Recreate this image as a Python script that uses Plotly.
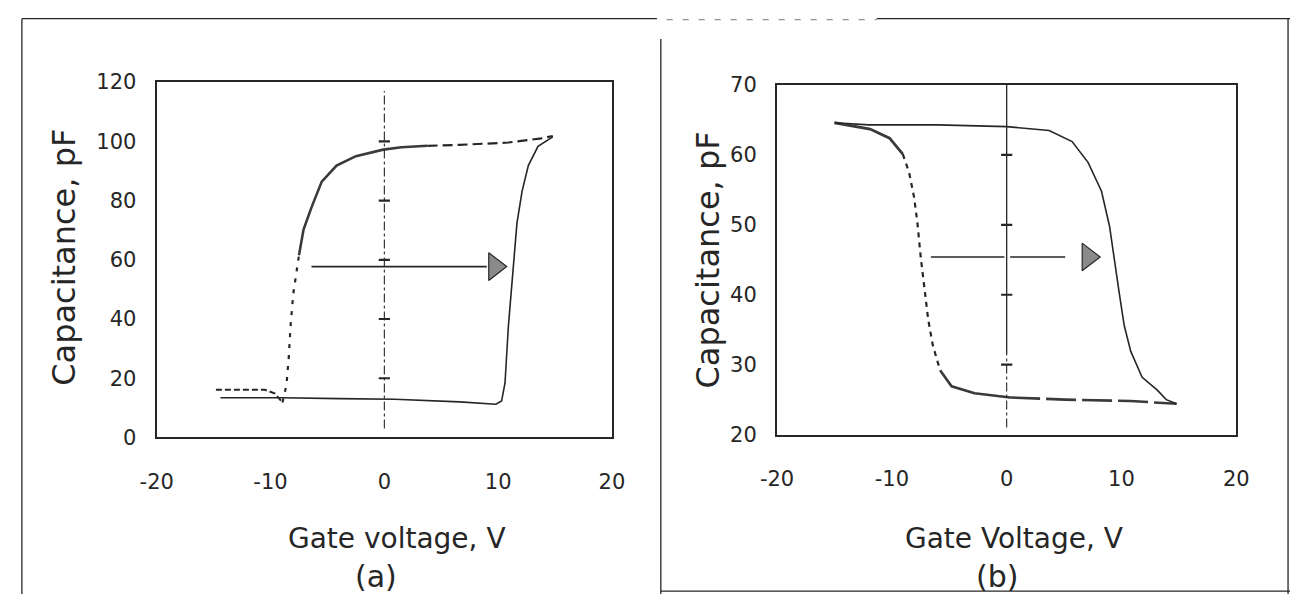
import plotly.graph_objects as go

# ---------------- data ----------------
# panel (a): forward sweep (dashed) and reverse sweep (solid)
fwd_a_x = [-14.8, -12.5, -10.5, -9.6, -8.95, -8.6, -8.4, -8.24, -8.0, -7.75, -7.5,
           -7.1, -6.4, -5.5, -4.2, -2.5, -0.1, 1.5, 3.8, 6.6, 10.9, 13.8, 14.8]
fwd_a_y = [16.1, 16.1, 16.1, 14.8, 11.8, 17.7, 26.9, 37.7, 48.5, 55.0, 61.5,
           70.2, 77.7, 86.4, 91.8, 95.0, 97.2, 98.0, 98.5, 98.8, 99.6, 101.0, 101.8]
rev_a_x = [-14.4, -10.5, -8.95, -4.0, 0.9, 6.6, 9.4, 9.8, 10.3, 10.6, 10.9,
           11.35, 11.65, 12.1, 12.65, 13.5, 14.8]
rev_a_y = [13.4, 13.4, 13.4, 13.1, 12.9, 12.0, 11.4, 11.2, 12.3, 18.3, 37.7,
           59.4, 72.3, 83.1, 91.8, 98.3, 101.5]

# panel (b)
fwd_b_x = [-15.0, -13.5, -11.9, -10.2, -9.05, -8.5, -8.06, -7.77, -7.49, -7.2,
           -6.84, -6.44, -5.8, -4.8, -2.8, 0.3, 5.1, 10.8, 14.8]
fwd_b_y = [64.6, 64.2, 63.7, 62.4, 60.1, 57.5, 53.9, 50.2, 45.4, 41.1,
           36.5, 32.8, 29.2, 26.9, 25.9, 25.3, 25.0, 24.8, 24.4]
rev_b_x = [-15.0, -12.0, -6.0, 0.0, 3.7, 5.7, 7.1, 8.26, 8.96, 9.39, 9.81,
           10.24, 10.81, 11.8, 13.1, 13.9, 14.8]
rev_b_y = [64.6, 64.3, 64.3, 64.05, 63.5, 61.9, 58.9, 54.8, 49.8, 44.7, 40.2,
           35.6, 31.9, 28.2, 26.4, 25.0, 24.4]

# markers on the x = 0 guide line
guide_a_ticks = [20, 40, 60, 80, 100]
guide_b_ticks = [30, 40, 50, 60]

# tick labels
x_tickvals = [-20, -10, 0, 10, 20]
x_ticktext = ["-20", "-10", "0", "10", "20"]
ya_tickvals = [0, 20, 40, 60, 80, 100, 120]
yb_tickvals = [20, 30, 40, 50, 60, 70]

# arrows (direction of sweep)
arrow_a_x = [-6.4, 9.0]
arrow_a_y = 57.7
arrow_a_head = 9.7
arrow_b_x1 = [-6.6, -0.2]
arrow_b_x2 = [0.3, 5.1]
arrow_b_y = 45.4
arrow_b_head = 7.1

# ---------------- layout helpers ----------------
W, H = 1303, 606
def px(x):
    return x / W
def py(y):
    return 1 - y / H

INK = "#262626"
FONT = "DejaVu Sans"

fig = go.Figure()

def line(xs, ys, xa, ya, dash="solid", width=1.6, color=INK):
    fig.add_trace(go.Scatter(x=xs, y=ys, xaxis=xa, yaxis=ya, mode="lines",
                             line=dict(color=color, width=width, dash=dash),
                             hoverinfo="skip", showlegend=False))

def ticks_on_guide(vals, xa, ya):
    fig.add_trace(go.Scatter(x=[0] * len(vals), y=vals, xaxis=xa, yaxis=ya, mode="markers",
                             marker=dict(symbol="line-ew-open", size=8, color=INK,
                                         line=dict(color=INK, width=2.2)),
                             hoverinfo="skip", showlegend=False))

def head(x, y, xa, ya):
    fig.add_trace(go.Scatter(x=[x], y=[y], xaxis=xa, yaxis=ya, mode="markers",
                             marker=dict(symbol="triangle-right", size=24, color="#8a8a8a",
                                         line=dict(color=INK, width=1.2)),
                             hoverinfo="skip", showlegend=False))

# ---- panel (a) ----
line(fwd_a_x[:5], fwd_a_y[:5], "x", "y", dash="6px,3px", width=2)
line(fwd_a_x[4:11], fwd_a_y[4:11], "x", "y", dash="4px,7px", width=2.2)
line(fwd_a_x[10:19], fwd_a_y[10:19], "x", "y", dash="solid", width=2.6, color="#3a3a3a")
line(fwd_a_x[18:], fwd_a_y[18:], "x", "y", dash="10px,5px", width=2.2)
line(rev_a_x, rev_a_y, "x", "y", dash="solid", width=1.6)
line([0, 0], [3, 117], "x", "y", dash="dashdot", width=1.1)
ticks_on_guide(guide_a_ticks, "x", "y")
line(arrow_a_x, [arrow_a_y, arrow_a_y], "x", "y", width=1.8)
head(arrow_a_head, arrow_a_y, "x", "y")

# ---- panel (b) ----
line(fwd_b_x[:5], fwd_b_y[:5], "x2", "y2", dash="solid", width=2.8, color="#3a3a3a")
line(fwd_b_x[4:13], fwd_b_y[4:13], "x2", "y2", dash="5px,5px", width=2.2)
line(fwd_b_x[12:16], fwd_b_y[12:16], "x2", "y2", dash="solid", width=2.6, color="#3a3a3a")
line(fwd_b_x[15:], fwd_b_y[15:], "x2", "y2", dash="30px,6px", width=2.6, color="#3a3a3a")
line(rev_b_x, rev_b_y, "x2", "y2", dash="solid", width=1.6)
line([0, 0], [31.5, 70], "x2", "y2", dash="solid", width=1.3)
line([0, 0], [21, 31.5], "x2", "y2", dash="dashdot", width=1.1)
ticks_on_guide(guide_b_ticks, "x2", "y2")
line(arrow_b_x1, [arrow_b_y, arrow_b_y], "x2", "y2", width=1.4)
line(arrow_b_x2, [arrow_b_y, arrow_b_y], "x2", "y2", width=1.4)
head(arrow_b_head, arrow_b_y, "x2", "y2")

axis_common = dict(showline=True, mirror=True, linewidth=2.2, linecolor=INK,
                   showgrid=False, zeroline=False, ticks="",
                   tickfont=dict(family=FONT, size=21, color=INK), fixedrange=True)

fig.update_layout(
    width=W, height=H, margin=dict(l=0, r=0, t=0, b=0),
    paper_bgcolor="white", plot_bgcolor="white", showlegend=False,
    xaxis=dict(domain=[px(143), px(609)], anchor="y", range=[-20, 20],
               tickvals=x_tickvals, ticktext=x_ticktext, ticklabelstandoff=24, **axis_common),
    yaxis=dict(domain=[py(443), py(73)], anchor="x", range=[0, 120],
               tickvals=ya_tickvals, ticklabelstandoff=14, **axis_common),
    xaxis2=dict(domain=[px(778), px(1248)], anchor="y2", range=[-20, 20],
                tickvals=x_tickvals, ticktext=x_ticktext, ticklabelstandoff=24, **axis_common),
    yaxis2=dict(domain=[py(440), py(76)], anchor="x2", range=[20, 70],
                tickvals=yb_tickvals, ticklabelstandoff=14, **axis_common),
)

def label(text, x, y, size, angle=0):
    fig.add_annotation(text=text, x=px(x), y=py(y), xref="paper", yref="paper",
                       showarrow=False, textangle=angle, xanchor="center", yanchor="middle",
                       font=dict(family=FONT, size=size, color=INK))

label("Capacitance, pF", 48, 255, 32, -90)
label("Gate voltage, V", 389, 548, 28)
label("(a)", 367, 588, 30)
label("Capacitance, pF", 707, 258, 32, -90)
label("Gate Voltage, V", 1020, 548, 28)
label("(b)", 1003, 588, 30)

# panel frames
frame = dict(type="line", xref="paper", yref="paper", line=dict(color=INK, width=1.3))
fig.add_shape(x0=px(5), x1=px(5), y0=py(7), y1=py(606), **frame)
fig.add_shape(x0=px(5), x1=px(655), y0=py(7), y1=py(7), **frame)
fig.add_shape(x0=px(659), x1=px(659), y0=py(28), y1=py(606), **frame)
fig.add_shape(x0=px(880), x1=px(1303), y0=py(7), y1=py(7), **frame)
fig.add_shape(x0=px(1301), x1=px(1301), y0=py(7), y1=py(606), **frame)
fig.add_shape(x0=px(659), x1=px(1303), y0=py(603), y1=py(603), **frame)
fig.add_shape(type="line", xref="paper", yref="paper", x0=px(665), x1=px(880), y0=py(8), y1=py(8),
              line=dict(color="#777", width=1, dash="6px,10px"))

fig.write_html("out.html")
